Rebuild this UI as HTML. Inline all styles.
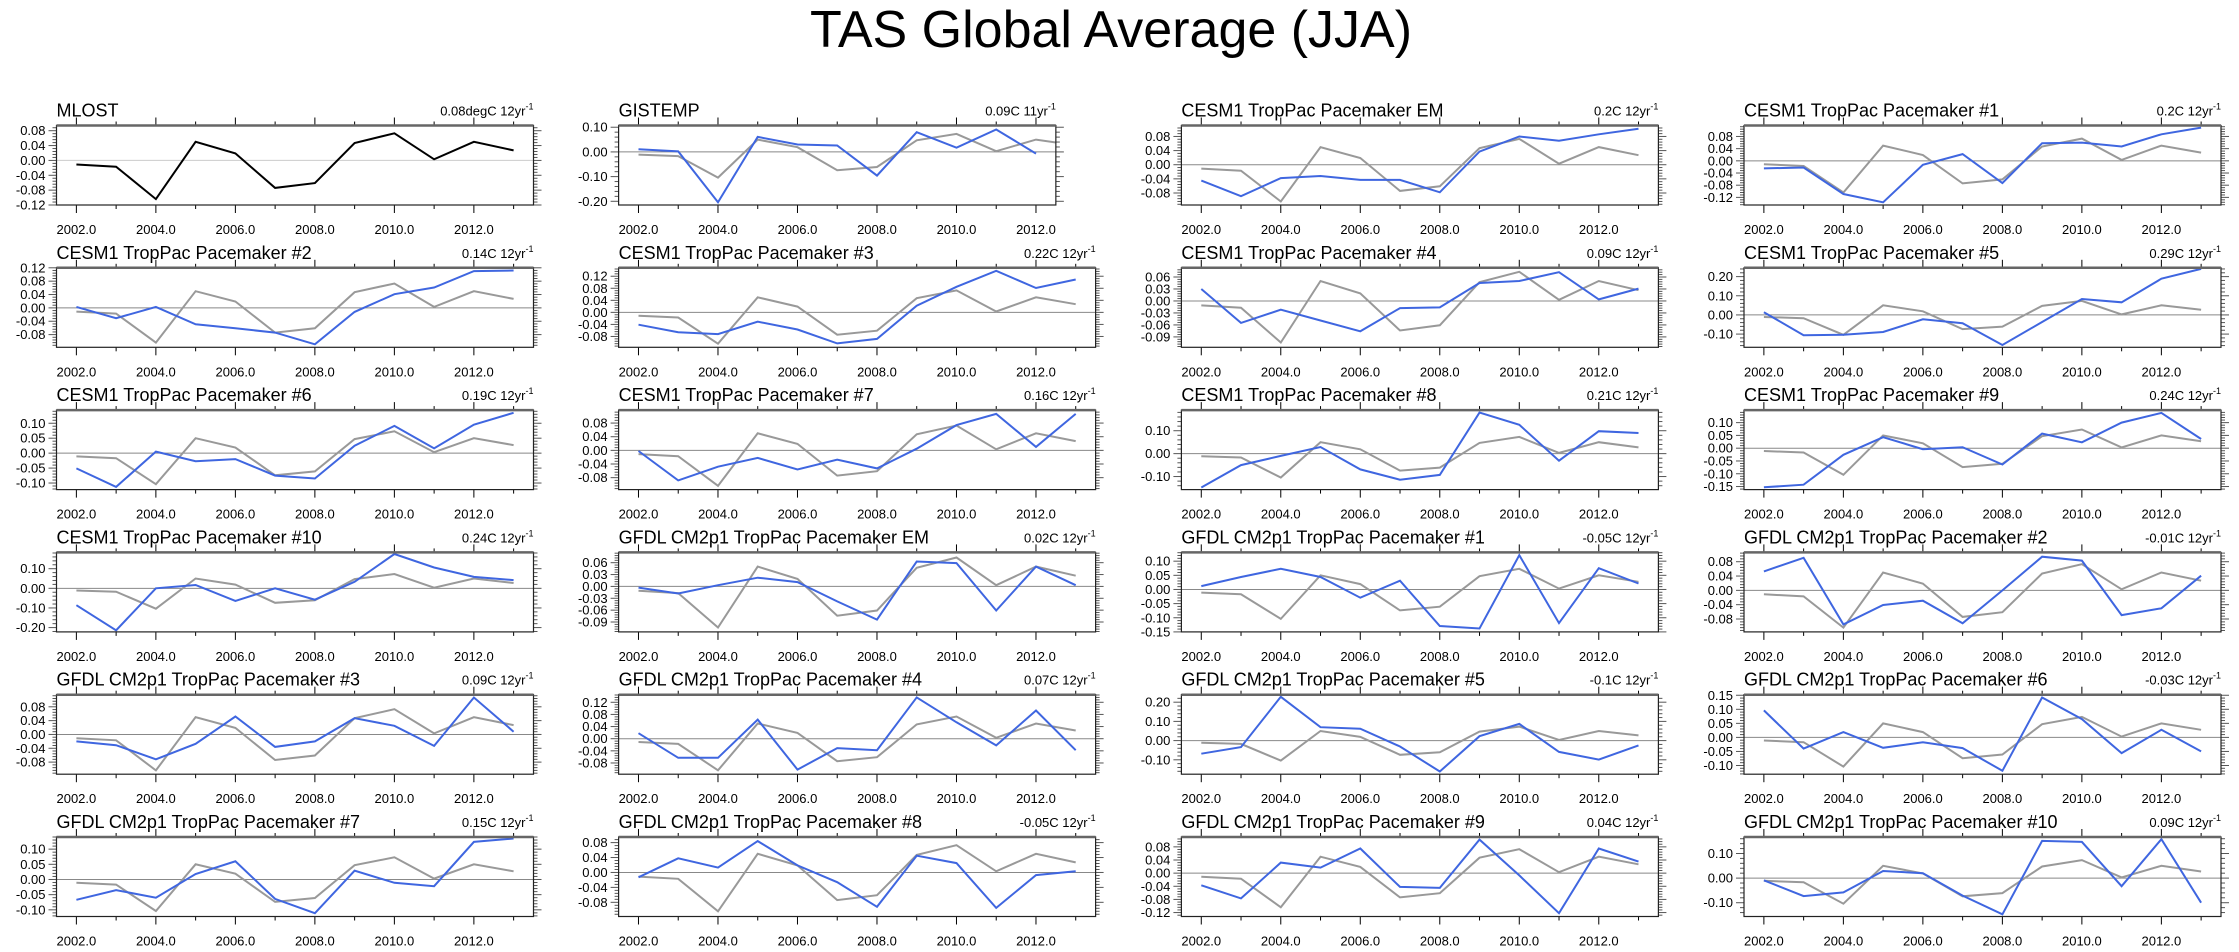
<!DOCTYPE html>
<html><head><meta charset="utf-8">
<style>
html,body{margin:0;padding:0;background:#fff;}
svg{display:block;font-family:"Liberation Sans",sans-serif;}
</style></head>
<body>
<svg id="chart" width="2239" height="952" viewBox="0 0 2239 952" xmlns="http://www.w3.org/2000/svg">
<rect width="2239" height="952" fill="#fff"/>
<text x="1111" y="47" font-size="52" text-anchor="middle" fill="#000">TAS Global Average (JJA)</text>
</svg>
<script>
const years = [2002,2003,2004,2005,2006,2007,2008,2009,2010,2011,2012,2013];
const mlost = [-0.011,-0.017,-0.104,0.050,0.019,-0.074,-0.061,0.047,0.073,0.003,0.050,0.027];
const panelTitles = ["MLOST","GISTEMP","CESM1 TropPac Pacemaker EM","CESM1 TropPac Pacemaker #1",
"CESM1 TropPac Pacemaker #2","CESM1 TropPac Pacemaker #3","CESM1 TropPac Pacemaker #4","CESM1 TropPac Pacemaker #5",
"CESM1 TropPac Pacemaker #6","CESM1 TropPac Pacemaker #7","CESM1 TropPac Pacemaker #8","CESM1 TropPac Pacemaker #9",
"CESM1 TropPac Pacemaker #10","GFDL CM2p1 TropPac Pacemaker EM","GFDL CM2p1 TropPac Pacemaker #1","GFDL CM2p1 TropPac Pacemaker #2",
"GFDL CM2p1 TropPac Pacemaker #3","GFDL CM2p1 TropPac Pacemaker #4","GFDL CM2p1 TropPac Pacemaker #5","GFDL CM2p1 TropPac Pacemaker #6",
"GFDL CM2p1 TropPac Pacemaker #7","GFDL CM2p1 TropPac Pacemaker #8","GFDL CM2p1 TropPac Pacemaker #9","GFDL CM2p1 TropPac Pacemaker #10"];
const panelTrends = ["0.08degC 12yr","0.09C 11yr","0.2C 12yr","0.2C 12yr",
"0.14C 12yr","0.22C 12yr","0.09C 12yr","0.29C 12yr",
"0.19C 12yr","0.16C 12yr","0.21C 12yr","0.24C 12yr",
"0.24C 12yr","0.02C 12yr","-0.05C 12yr","-0.01C 12yr",
"0.09C 12yr","0.07C 12yr","-0.1C 12yr","-0.03C 12yr",
"0.15C 12yr","-0.05C 12yr","0.04C 12yr","0.09C 12yr"];
const yMinVals = [-0.12,-0.215,-0.114,-0.145, -0.118,-0.116,-0.116,-0.169, -0.122,-0.115,-0.157,-0.162, -0.222,-0.115,-0.15,-0.116, -0.115,-0.117,-0.175,-0.131, -0.122,-0.118,-0.132,-0.156];
const yMaxVals = [0.094,0.107,0.111,0.116, 0.12,0.148,0.083,0.246, 0.144,0.118,0.19,0.149, 0.183,0.086,0.131,0.106, 0.115,0.145,0.239,0.152, 0.14,0.095,0.11,0.167];
const tickSteps = [0.04,0.1,0.04,0.04, 0.04,0.04,0.03,0.1, 0.05,0.04,0.1,0.05, 0.1,0.03,0.05,0.04, 0.04,0.04,0.1,0.05, 0.05,0.04,0.04,0.1];
const blueSeries = [
null,
[0.011,0.002,-0.204,0.061,0.030,0.026,-0.096,0.080,0.017,0.091,-0.007],
[-0.045,-0.089,-0.038,-0.032,-0.043,-0.043,-0.078,0.037,0.080,0.068,0.086,0.102],
[-0.025,-0.022,-0.109,-0.136,-0.013,0.022,-0.073,0.058,0.060,0.047,0.087,0.109],
[0.003,-0.031,0.003,-0.049,-0.061,-0.074,-0.109,-0.012,0.041,0.061,0.110,0.112],
[-0.041,-0.066,-0.072,-0.031,-0.057,-0.103,-0.088,0.022,0.085,0.138,0.081,0.109],
[0.030,-0.055,-0.022,-0.049,-0.076,-0.018,-0.016,0.045,0.050,0.072,0.004,0.031],
[0.014,-0.106,-0.103,-0.089,-0.023,-0.043,-0.157,-0.037,0.083,0.066,0.189,0.240],
[-0.051,-0.113,0.005,-0.027,-0.020,-0.075,-0.085,0.025,0.091,0.016,0.095,0.135],
[-0.002,-0.088,-0.048,-0.022,-0.056,-0.027,-0.053,0.005,0.074,0.107,0.010,0.107],
[-0.148,-0.050,-0.010,0.029,-0.069,-0.114,-0.093,0.179,0.126,-0.031,0.098,0.090],
[-0.153,-0.143,-0.026,0.043,-0.004,0.004,-0.064,0.057,0.023,0.100,0.138,0.036],
[-0.086,-0.214,0.000,0.017,-0.064,0.000,-0.058,0.033,0.175,0.106,0.058,0.042],
[-0.003,-0.018,0.003,0.022,0.011,-0.038,-0.084,0.063,0.059,-0.061,0.050,0.003],
[0.012,0.044,0.073,0.044,-0.029,0.031,-0.129,-0.138,0.121,-0.119,0.075,0.021],
[0.053,0.091,-0.095,-0.041,-0.029,-0.092,0.000,0.094,0.083,-0.069,-0.050,0.041],
[-0.020,-0.031,-0.072,-0.027,0.052,-0.036,-0.020,0.047,0.025,-0.033,0.107,0.008],
[0.018,-0.063,-0.063,0.063,-0.102,-0.031,-0.038,0.136,0.054,-0.022,0.093,-0.038],
[-0.068,-0.034,0.228,0.070,0.062,-0.031,-0.161,0.023,0.087,-0.059,-0.099,-0.025],
[0.096,-0.040,0.019,-0.037,-0.017,-0.038,-0.119,0.142,0.065,-0.056,0.027,-0.050],
[-0.067,-0.035,-0.060,0.018,0.060,-0.064,-0.111,0.029,-0.011,-0.022,0.124,0.135],
[-0.013,0.038,0.013,0.084,0.019,-0.026,-0.092,0.045,0.025,-0.095,-0.007,0.003],
[-0.037,-0.077,0.032,0.017,0.075,-0.042,-0.045,0.102,-0.007,-0.122,0.075,0.035],
[-0.009,-0.073,-0.058,0.029,0.020,-0.071,-0.147,0.151,0.147,-0.033,0.158,-0.100]
];

const svg = document.getElementById('chart');
const NS = 'http://www.w3.org/2000/svg';
const colLefts = [56.5, 618.6, 1181.4, 1744];
const PX_PER_YEAR = 39.75, BOX_H = 79.5, ROW0 = 125.5, ROW_PITCH = 142.3;
function mk(tag, attrs, parent){ const e=document.createElementNS(NS,tag); for(const k in attrs) e.setAttribute(k,attrs[k]); (parent||svg).appendChild(e); return e; }

panelTitles.forEach((title, i) => {
  const col = i % 4, row = Math.floor(i / 4);
  const left = colLefts[col];
  const top = ROW0 + row * ROW_PITCH, bottom = top + BOX_H;
  const lastYear = (i === 1) ? 2012 : 2013;
  const xs = yr => left + (yr - 2001.5) * PX_PER_YEAR;
  const right = xs(lastYear + 0.5);
  const ymin = yMinVals[i], ymax = yMaxVals[i], step = tickSteps[i];
  const ys = v => bottom - (v - ymin) / (ymax - ymin) * BOX_H;

  const g = mk('g', {});
  
  

  const cp = mk('clipPath', {id:'clip'+i}, g);
  mk('rect', {x:left, y:top, width:right-left, height:BOX_H}, cp);

  const t = mk('text', {x:left, y:top-9, 'font-size':18, fill:'#000'}, g);
  
  
  t.textContent = title;

  const tr = mk('text', {x:right, y:top-10, 'font-size':13, fill:'#000', 'text-anchor':'end'}, g);
  
  
  tr.textContent = panelTrends[i];
  const sup = mk('tspan', {'font-size':9, dy:-6}, tr);
  sup.textContent = '-1';

  // x ticks
  for (let yr = 2002; yr <= lastYear; yr++) {
    const x = xs(yr), major = (yr % 2 === 0);
    const L = major ? 8 : 4;
    mk('line', {x1:x, x2:x, y1:top, y2:top-L, stroke:'#000', 'stroke-width':1}, g);
    mk('line', {x1:x, x2:x, y1:bottom, y2:bottom+L, stroke:'#000', 'stroke-width':1}, g);
    if (major) {
      const lb = mk('text', {x:x, y:bottom+29, 'font-size':13, 'text-anchor':'middle', fill:'#000'}, g);
      
      
      lb.textContent = yr.toFixed(1);
    }
  }
  // y ticks
  const minor = step / 5;
  const kStart = Math.ceil((ymin - 1e-9) / minor), kEnd = Math.floor((ymax + 1e-9) / minor);
  for (let k = kStart; k <= kEnd; k++) {
    const v = k * minor, y = ys(v);
    const isMajor = (k % 5 === 0);
    const L = isMajor ? 8 : 4;
    mk('line', {x1:left, x2:left-L, y1:y, y2:y, stroke:'#555', 'stroke-width':1}, g);
    mk('line', {x1:right, x2:right+L, y1:y, y2:y, stroke:'#555', 'stroke-width':1}, g);
    if (isMajor) {
      const lb = mk('text', {x:left-11, y:y+4.5, 'font-size':13, 'text-anchor':'end', fill:'#000'}, g);
      
      
      const val = Math.abs(v) < 1e-9 ? 0 : v;
      lb.textContent = val.toFixed(2);
    }
  }
  // zero line
  const zl = mk('line', {x1:left, x2:right, y1:ys(0), y2:ys(0), stroke: i===0 ? '#ccc' : '#888', 'stroke-width':1}, g);
  
  

  const path = (arr) => arr.map((v, j) => (j ? 'L' : 'M') + xs(years[j]).toFixed(1) + ',' + ys(v).toFixed(1)).join(' ');
  if (i === 0) {
    const p = mk('path', {d:path(mlost), fill:'none', stroke:'#000', 'stroke-width':2, 'clip-path':'url(#clip0)'}, g);
    
    
  } else {
    const p = mk('path', {d:path(mlost), fill:'none', stroke:'#999', 'stroke-width':2, 'clip-path':'url(#clip'+i+')'}, g);
    
    
    const b = mk('path', {d:path(blueSeries[i]), fill:'none', stroke:'#3f66e0', 'stroke-width':2, 'clip-path':'url(#clip'+i+')'}, g);
    
    
  }
  // box
  const bx = mk('rect', {x:left, y:top, width:right-left, height:BOX_H, fill:'none', stroke:'#222', 'stroke-width':1.2}, g);
  
  
  mk('line', {x1:left, x2:right, y1:top, y2:top, stroke:'#666', 'stroke-width':2.5}, g);
});
</script>
</body></html>
